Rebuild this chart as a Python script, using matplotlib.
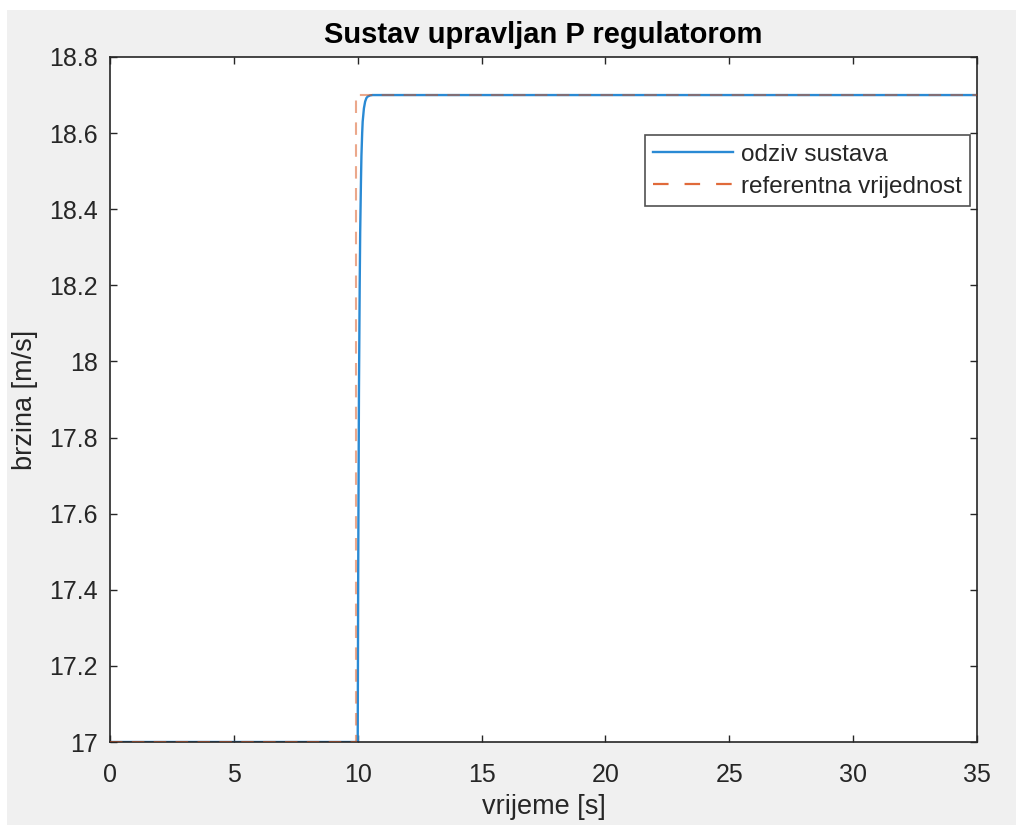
import matplotlib
matplotlib.use("Agg")
import matplotlib.pyplot as plt
from matplotlib.patches import Rectangle

# Data
t_ref = [0, 9.95, 9.95, 35]
y_ref = [17, 17, 18.7, 18.7]

t_resp = [0, 10.0, 10.02, 10.05, 10.08, 10.1, 10.13, 10.15, 10.18, 10.2, 10.25, 10.3, 10.35, 10.4, 10.5, 10.6, 35]
y_resp = [17, 17.0, 17.45, 17.92, 18.2, 18.34, 18.47, 18.54, 18.6, 18.63, 18.665, 18.683, 18.692, 18.696, 18.699, 18.7, 18.7]

xticks = [0, 5, 10, 15, 20, 25, 30, 35]
xticklabels = ['0', '5', '10', '15', '20', '25', '30', '35']
yticks = [17, 17.2, 17.4, 17.6, 17.8, 18, 18.2, 18.4, 18.6, 18.8]
yticklabels = ['17', '17.2', '17.4', '17.6', '17.8', '18', '18.2', '18.4', '18.6', '18.8']

title = 'Sustav upravljan P regulatorom'
xlabel = 'vrijeme [s]'
ylabel = 'brzina [m/s]'
labels = ['odziv sustava', 'referentna vrijednost']

plt.rcParams['font.family'] = ['Liberation Sans', 'DejaVu Sans']

W, H = 1017, 825
fig = plt.figure(figsize=(W / 100, H / 100), dpi=100, facecolor='white')
fig.patches.append(Rectangle((7 / W, 0), 1 - 8 / W, 1 - 10 / H, transform=fig.transFigure,
                             facecolor='#f0f0f0', edgecolor='none', zorder=-10))

ax = fig.add_axes([110 / W, 1 - 742 / H, (977 - 110) / W, (742 - 57) / H])
ax.set_facecolor('white')

axc = '#262626'
ax.plot(t_resp, y_resp, color='#2a8ad4', lw=1.7, label=labels[0], zorder=2)
ax.plot(t_ref, y_ref, color='#D95319', lw=1.5, ls=(0, (6, 4.5)), alpha=0.5, label=labels[1], zorder=3)

ax.set_xlim(0, 35)
ax.set_ylim(17, 18.8)
ax.set_xticks(xticks)
ax.set_xticklabels(xticklabels)
ax.set_yticks(yticks)
ax.set_yticklabels(yticklabels)

ax.tick_params(direction='in', length=5, width=1, colors=axc, labelsize=18,
               top=True, right=True)
ax.tick_params(axis='x', pad=15)
ax.tick_params(axis='y', pad=9)
for s in ax.spines.values():
    s.set_color(axc)
    s.set_linewidth(1.2)

ax.set_title(title, fontsize=21, fontweight='bold', color='black', pad=10)
ax.set_xlabel(xlabel, fontsize=19.5, color=axc, labelpad=5)
ax.set_ylabel(ylabel, fontsize=19.5, color=axc, labelpad=8)

h1, = ax.plot([], [], color='#2a8ad4', lw=1.7)
h2, = ax.plot([], [], color='#e06a3a', lw=1.6, ls=(0, (7.0, 7.2)))
leg = ax.legend([h1, h2], labels, loc='upper right', bbox_to_anchor=(0.992, 0.886),
                fontsize=17.5, frameon=True, fancybox=False, edgecolor=axc,
                borderpad=0.35, labelspacing=0.42, handlelength=3.3, handletextpad=0.3,
                borderaxespad=0)
leg.get_frame().set_linewidth(1.2)
for t in leg.get_texts():
    t.set_color(axc)

fig.savefig('out.png', dpi=100, facecolor=fig.get_facecolor())
